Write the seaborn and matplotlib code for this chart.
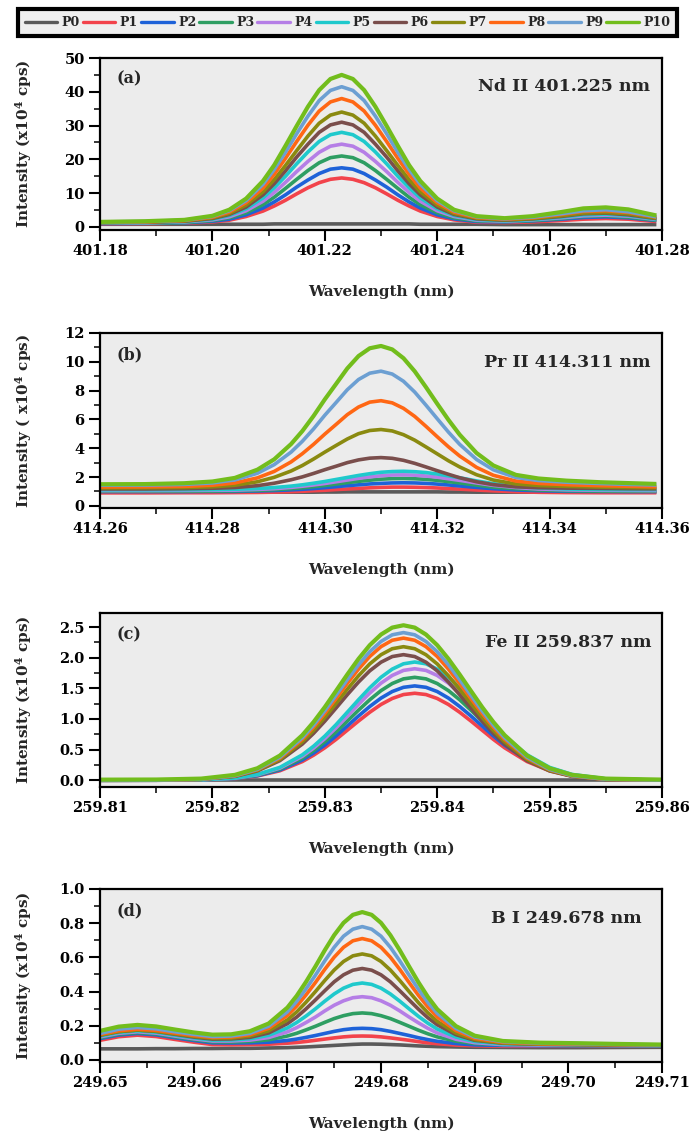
import matplotlib.pyplot as plt
import matplotlib.ticker as mticker
from matplotlib.lines import Line2D
import pandas as pd
import seaborn as sns

samples = ['P0', 'P1', 'P2', 'P3', 'P4', 'P5', 'P6', 'P7', 'P8', 'P9', 'P10']
colors = ['#5a5a5a', '#f2434b', '#1e62d8', '#2e9e62', '#b57ee6', '#1fc9cc',
          '#7a4e4c', '#8a8a10', '#ff6714', '#6c9fd2', '#72bd1c']

# (a) Nd II 401.225 nm, intensity in x10^4 cps
nd_wl = [401.180, 401.188, 401.195, 401.200, 401.203, 401.206, 401.209, 401.211, 401.213, 401.215,
         401.217, 401.219, 401.221, 401.223, 401.225, 401.227, 401.229, 401.231, 401.233, 401.235,
         401.237, 401.240, 401.243, 401.247, 401.252, 401.257, 401.262, 401.266, 401.270, 401.274, 401.279]
nd_p0 = [0.8, 0.8, 0.8, 0.8, 0.8, 0.8, 0.8, 0.9, 0.9, 0.9, 0.9, 0.9, 0.9, 0.9, 0.9, 0.9,
         0.9, 0.9, 0.9, 0.9, 0.8, 0.8, 0.8, 0.8, 0.7, 0.7, 0.7, 0.7, 0.7, 0.7, 0.7]
nd_p1 = [0.9, 1.0, 1.1, 1.5, 2.0, 3.1, 4.7, 6.2, 7.9, 9.8, 11.6, 13.1, 14.1, 14.5, 14.1, 13.1,
         11.6, 9.8, 7.9, 6.2, 4.7, 3.1, 2.1, 1.4, 1.3, 1.5, 1.9, 2.3, 2.5, 2.3, 1.6]
nd_p2 = [1.0, 1.1, 1.2, 1.7, 2.3, 3.6, 5.6, 7.4, 9.5, 11.8, 13.9, 15.8, 17.1, 17.5, 17.1, 15.8,
         13.9, 11.8, 9.5, 7.4, 5.6, 3.6, 2.4, 1.6, 1.5, 1.8, 2.3, 2.8, 3.0, 2.7, 1.9]
nd_p3 = [1.1, 1.1, 1.3, 1.9, 2.7, 4.2, 6.6, 8.8, 11.4, 14.1, 16.7, 19.0, 20.5, 21.0, 20.5, 19.0,
         16.7, 14.1, 11.4, 8.8, 6.6, 4.2, 2.7, 1.8, 1.6, 1.9, 2.5, 3.1, 3.3, 2.9, 2.0]
nd_p4 = [1.1, 1.2, 1.5, 2.1, 3.0, 4.8, 7.6, 10.2, 13.2, 16.4, 19.4, 22.1, 23.9, 24.5, 23.9, 22.1,
         19.4, 16.4, 13.2, 10.2, 7.6, 4.8, 3.1, 2.0, 1.7, 2.1, 2.7, 3.3, 3.5, 3.2, 2.2]
nd_p5 = [1.2, 1.3, 1.6, 2.3, 3.4, 5.4, 8.6, 11.6, 15.0, 18.7, 22.2, 25.3, 27.3, 28.0, 27.3, 25.3,
         22.2, 18.7, 15.0, 11.6, 8.6, 5.4, 3.4, 2.2, 1.8, 2.2, 2.9, 3.6, 3.8, 3.4, 2.3]
nd_p6 = [1.3, 1.4, 1.7, 2.5, 3.7, 5.9, 9.5, 12.8, 16.6, 20.7, 24.5, 28.0, 30.2, 31.0, 30.2, 28.0,
         24.5, 20.7, 16.6, 12.8, 9.5, 5.9, 3.7, 2.4, 2.0, 2.4, 3.1, 3.9, 4.1, 3.6, 2.5]
nd_p7 = [1.3, 1.5, 1.8, 2.7, 4.0, 6.5, 10.4, 14.0, 18.2, 22.6, 26.9, 30.7, 33.1, 34.0, 33.1, 30.7,
         26.9, 22.6, 18.2, 14.0, 10.4, 6.5, 4.0, 2.6, 2.1, 2.5, 3.3, 4.1, 4.3, 3.9, 2.6]
nd_p8 = [1.4, 1.5, 1.9, 2.9, 4.4, 7.2, 11.5, 15.6, 20.3, 25.3, 30.1, 34.3, 37.0, 38.0, 37.0, 34.3,
         30.1, 25.3, 20.3, 15.6, 11.5, 7.2, 4.4, 2.8, 2.3, 2.7, 3.7, 4.6, 4.8, 4.3, 2.9]
nd_p9 = [1.5, 1.6, 2.0, 3.1, 4.8, 7.8, 12.6, 17.0, 22.1, 27.6, 32.8, 37.4, 40.4, 41.5, 40.4, 37.4,
         32.8, 27.6, 22.1, 17.0, 12.6, 7.8, 4.8, 3.0, 2.4, 2.9, 3.9, 4.8, 5.1, 4.5, 3.0]
nd_p10 = [1.5, 1.7, 2.1, 3.3, 5.1, 8.4, 13.6, 18.3, 24.0, 29.9, 35.6, 40.5, 43.8, 45.0, 43.8, 40.5,
          35.6, 29.9, 24.0, 18.3, 13.6, 8.4, 5.1, 3.2, 2.6, 3.2, 4.4, 5.5, 5.8, 5.2, 3.4]

# (b) Pr II 414.311 nm
pr_wl = [414.260, 414.268, 414.275, 414.280, 414.284, 414.288, 414.291, 414.294, 414.296, 414.298,
         414.300, 414.302, 414.304, 414.306, 414.308, 414.310, 414.312, 414.314, 414.316, 414.318,
         414.320, 414.322, 414.324, 414.327, 414.330, 414.334, 414.338, 414.343, 414.349, 414.354, 414.359]
pr_p0 = [0.95, 0.95, 0.95, 0.95, 0.95, 0.95, 0.95, 0.95, 0.95, 0.95, 0.96, 0.96, 0.97, 0.97, 0.97, 0.97,
         0.97, 0.97, 0.97, 0.97, 0.97, 0.96, 0.96, 0.95, 0.95, 0.95, 0.95, 0.95, 0.95, 0.95, 0.95]
pr_p1 = [0.90, 0.90, 0.91, 0.91, 0.92, 0.93, 0.95, 0.98, 1.01, 1.05, 1.08, 1.13, 1.17, 1.21, 1.25, 1.28,
         1.30, 1.30, 1.29, 1.27, 1.24, 1.20, 1.16, 1.10, 1.04, 0.98, 0.94, 0.92, 0.91, 0.91, 0.91]
pr_p2 = [0.99, 0.99, 0.99, 1.00, 1.00, 1.03, 1.06, 1.11, 1.15, 1.20, 1.26, 1.33, 1.40, 1.46, 1.52, 1.56,
         1.59, 1.60, 1.59, 1.56, 1.51, 1.45, 1.38, 1.28, 1.19, 1.10, 1.05, 1.01, 1.00, 0.99, 0.99]
pr_p3 = [1.01, 1.01, 1.01, 1.02, 1.04, 1.07, 1.12, 1.19, 1.25, 1.33, 1.41, 1.51, 1.61, 1.70, 1.78, 1.85,
         1.89, 1.90, 1.88, 1.84, 1.77, 1.68, 1.59, 1.44, 1.30, 1.18, 1.10, 1.05, 1.02, 1.01, 1.01]
pr_p4 = [1.06, 1.06, 1.07, 1.08, 1.09, 1.14, 1.19, 1.28, 1.36, 1.45, 1.55, 1.67, 1.79, 1.91, 2.01, 2.09,
         2.14, 2.15, 2.13, 2.07, 1.99, 1.88, 1.77, 1.59, 1.42, 1.27, 1.17, 1.11, 1.08, 1.07, 1.06]
pr_p5 = [1.11, 1.11, 1.12, 1.13, 1.15, 1.20, 1.27, 1.37, 1.46, 1.57, 1.69, 1.83, 1.97, 2.11, 2.23, 2.33,
         2.38, 2.40, 2.37, 2.31, 2.21, 2.08, 1.95, 1.73, 1.54, 1.35, 1.24, 1.17, 1.13, 1.12, 1.12]
pr_p6 = [1.17, 1.17, 1.19, 1.22, 1.27, 1.40, 1.57, 1.81, 2.01, 2.25, 2.51, 2.75, 3.00, 3.19, 3.31, 3.35,
         3.30, 3.16, 2.95, 2.70, 2.44, 2.19, 1.95, 1.67, 1.47, 1.32, 1.26, 1.23, 1.21, 1.19, 1.18]
pr_p7 = [1.24, 1.25, 1.27, 1.32, 1.43, 1.67, 1.98, 2.42, 2.80, 3.25, 3.73, 4.19, 4.64, 5.01, 5.23, 5.30,
         5.20, 4.94, 4.56, 4.09, 3.61, 3.13, 2.70, 2.16, 1.79, 1.52, 1.41, 1.35, 1.30, 1.27, 1.25]
pr_p8 = [1.31, 1.32, 1.35, 1.43, 1.59, 1.94, 2.39, 3.05, 3.62, 4.27, 4.98, 5.65, 6.33, 6.86, 7.20, 7.30,
         7.15, 6.77, 6.21, 5.52, 4.80, 4.10, 3.46, 2.67, 2.12, 1.72, 1.56, 1.47, 1.40, 1.36, 1.32]
pr_p9 = [1.43, 1.44, 1.49, 1.59, 1.80, 2.26, 2.86, 3.73, 4.48, 5.34, 6.29, 7.17, 8.06, 8.77, 9.21, 9.35,
         9.15, 8.65, 7.90, 6.99, 6.05, 5.12, 4.27, 3.22, 2.50, 1.97, 1.76, 1.64, 1.55, 1.49, 1.45]
pr_p10 = [1.50, 1.51, 1.57, 1.69, 1.94, 2.51, 3.23, 4.29, 5.19, 6.24, 7.39, 8.46, 9.54, 10.40, 10.94, 11.10,
          10.86, 10.25, 9.34, 8.24, 7.09, 5.97, 4.94, 3.67, 2.80, 2.15, 1.90, 1.75, 1.64, 1.58, 1.52]

# (c) Fe II 259.837 nm
fe_wl = [259.810, 259.815, 259.819, 259.822, 259.824, 259.826, 259.828, 259.829, 259.830, 259.831,
         259.832, 259.833, 259.834, 259.835, 259.836, 259.837, 259.838, 259.839, 259.840, 259.841,
         259.842, 259.843, 259.844, 259.845, 259.846, 259.848, 259.850, 259.852, 259.855, 259.860]
fe_p0 = [0.0, 0.0, 0.0, 0.0, 0.0, 0.0, 0.0, 0.0, 0.0, 0.0, 0.0, 0.0, 0.0, 0.0, 0.0,
         0.0, 0.0, 0.0, 0.0, 0.0, 0.0, 0.0, 0.0, 0.0, 0.0, 0.0, 0.0, 0.0, 0.0, 0.0]
fe_p1 = [0.0, 0.0, 0.006, 0.027, 0.070, 0.155, 0.305, 0.409, 0.530, 0.667, 0.817, 0.967, 1.110, 1.237, 1.335,
         1.399, 1.420, 1.399, 1.335, 1.237, 1.110, 0.967, 0.817, 0.667, 0.530, 0.305, 0.155, 0.070, 0.017, 0.001]
fe_p2 = [0.0, 0.0, 0.006, 0.029, 0.075, 0.168, 0.331, 0.444, 0.574, 0.724, 0.886, 1.049, 1.204, 1.341, 1.448,
         1.517, 1.540, 1.517, 1.448, 1.341, 1.204, 1.049, 0.886, 0.724, 0.574, 0.331, 0.168, 0.075, 0.018, 0.001]
fe_p3 = [0.0, 0.001, 0.007, 0.032, 0.082, 0.183, 0.361, 0.484, 0.627, 0.790, 0.966, 1.144, 1.314, 1.463, 1.579,
         1.655, 1.680, 1.655, 1.579, 1.463, 1.314, 1.144, 0.966, 0.790, 0.627, 0.361, 0.183, 0.082, 0.020, 0.001]
fe_p4 = [0.0, 0.001, 0.007, 0.035, 0.089, 0.198, 0.391, 0.524, 0.679, 0.855, 1.047, 1.239, 1.423, 1.585, 1.711,
         1.793, 1.820, 1.793, 1.711, 1.585, 1.423, 1.239, 1.047, 0.855, 0.679, 0.391, 0.198, 0.089, 0.021, 0.001]
fe_p5 = [0.0, 0.001, 0.008, 0.037, 0.095, 0.210, 0.415, 0.556, 0.720, 0.907, 1.110, 1.314, 1.509, 1.681, 1.814,
         1.901, 1.930, 1.901, 1.814, 1.681, 1.509, 1.314, 1.110, 0.907, 0.720, 0.415, 0.210, 0.095, 0.023, 0.001]
fe_p6 = [0.0, 0.001, 0.014, 0.064, 0.152, 0.320, 0.590, 0.765, 0.964, 1.179, 1.396, 1.603, 1.786, 1.927, 2.019,
         2.050, 2.019, 1.927, 1.786, 1.603, 1.396, 1.179, 0.964, 0.765, 0.590, 0.320, 0.152, 0.064, 0.014, 0.001]
fe_p7 = [0.0, 0.001, 0.015, 0.068, 0.161, 0.340, 0.628, 0.813, 1.025, 1.254, 1.485, 1.705, 1.899, 2.049, 2.147,
         2.180, 2.147, 2.049, 1.899, 1.705, 1.485, 1.254, 1.025, 0.813, 0.628, 0.340, 0.161, 0.068, 0.015, 0.001]
fe_p8 = [0.0, 0.001, 0.016, 0.072, 0.172, 0.362, 0.668, 0.865, 1.090, 1.334, 1.580, 1.814, 2.021, 2.181, 2.285,
         2.320, 2.285, 2.181, 2.021, 1.814, 1.580, 1.334, 1.090, 0.865, 0.668, 0.362, 0.172, 0.072, 0.016, 0.001]
fe_p9 = [0.0, 0.001, 0.017, 0.075, 0.178, 0.376, 0.694, 0.899, 1.133, 1.386, 1.641, 1.885, 2.099, 2.265, 2.374,
         2.410, 2.374, 2.265, 2.099, 1.885, 1.641, 1.386, 1.133, 0.899, 0.694, 0.376, 0.178, 0.075, 0.017, 0.001]
fe_p10 = [0.010, 0.012, 0.027, 0.088, 0.196, 0.403, 0.736, 0.950, 1.194, 1.459, 1.726, 1.981, 2.205, 2.379, 2.492,
          2.530, 2.492, 2.379, 2.205, 1.981, 1.726, 1.459, 1.194, 0.950, 0.736, 0.403, 0.196, 0.088, 0.027, 0.011]

# (d) B I 249.678 nm
b_wl = [249.650, 249.652, 249.654, 249.656, 249.658, 249.660, 249.662, 249.664, 249.666, 249.668,
        249.670, 249.671, 249.672, 249.673, 249.674, 249.675, 249.676, 249.677, 249.678, 249.679,
        249.680, 249.681, 249.682, 249.683, 249.684, 249.685, 249.686, 249.688, 249.690, 249.693,
        249.697, 249.701, 249.705, 249.710]
b_p0 = [.065, .065, .065, .066, .066, .067, .067, .068, .068, .070, .072, .074, .076, .079, .082, .085, .088,
        .091, .093, .093, .092, .090, .088, .085, .082, .080, .078, .076, .074, .073, .072, .072, .073, .074]
b_p1 = [.115, .136, .145, .137, .120, .104, .090, .089, .090, .092, .098, .102, .108, .115, .122, .129, .135,
        .139, .140, .139, .135, .129, .122, .115, .107, .100, .095, .087, .083, .080, .080, .080, .080, .080]
b_p2 = [.125, .146, .155, .147, .130, .114, .100, .099, .100, .104, .114, .122, .132, .143, .155, .167, .177,
        .183, .185, .183, .177, .167, .155, .143, .130, .119, .109, .096, .088, .085, .083, .083, .083, .082]
b_p3 = [.130, .151, .160, .152, .135, .119, .106, .105, .108, .118, .140, .156, .176, .197, .220, .242, .259,
        .271, .275, .271, .259, .242, .220, .197, .174, .153, .135, .110, .096, .089, .086, .085, .084, .083]
b_p4 = [.135, .156, .165, .157, .140, .124, .111, .111, .116, .131, .164, .189, .219, .251, .287, .320, .346,
        .364, .370, .364, .346, .320, .287, .251, .217, .185, .158, .121, .101, .090, .087, .086, .085, .084]
b_p5 = [.140, .161, .170, .162, .145, .129, .116, .117, .124, .144, .187, .219, .257, .299, .344, .386, .420,
        .442, .450, .442, .420, .386, .344, .299, .255, .215, .181, .134, .108, .094, .090, .088, .087, .085]
b_p6 = [.145, .166, .175, .167, .150, .134, .122, .123, .132, .158, .212, .251, .299, .351, .405, .457, .498,
        .525, .535, .525, .498, .457, .405, .351, .297, .247, .206, .148, .115, .098, .092, .090, .087, .085]
b_p7 = [.145, .166, .175, .168, .153, .138, .127, .128, .140, .170, .234, .281, .338, .400, .465, .526, .576,
        .609, .620, .609, .576, .526, .465, .400, .335, .276, .226, .157, .119, .099, .092, .090, .088, .086]
b_p8 = [.150, .171, .180, .173, .158, .143, .132, .134, .148, .185, .260, .315, .381, .453, .530, .601, .659,
        .697, .710, .697, .659, .601, .530, .453, .378, .310, .252, .172, .126, .103, .095, .092, .090, .087]
b_p9 = [.155, .180, .190, .182, .165, .150, .137, .140, .156, .197, .281, .342, .416, .496, .580, .659, .724,
        .765, .780, .765, .724, .659, .580, .496, .413, .337, .273, .184, .134, .107, .098, .095, .091, .088]
b_p10 = [.170, .195, .205, .196, .178, .161, .148, .150, .168, .213, .306, .375, .457, .547, .642, .730, .802,
         .849, .865, .849, .802, .730, .642, .547, .454, .369, .297, .198, .142, .111, .101, .098, .094, .090]


def long_df(wl, series):
    frames = []
    for name, vals in zip(samples, series):
        frames.append(pd.DataFrame({'wl': wl, 'intensity': vals, 'sample': name}))
    return pd.concat(frames, ignore_index=True)


sns.set_style('ticks')
plt.rcParams['font.family'] = ['DejaVu Serif']
plt.rcParams['font.weight'] = 'bold'
plt.rcParams['axes.labelweight'] = 'bold'
plt.rcParams['mathtext.fontset'] = 'dejavuserif'
plt.rcParams['mathtext.default'] = 'bf'

W, H = 694, 1132
fig = plt.figure(figsize=(W / 100, H / 100), dpi=100)
fig.patch.set_facecolor('white')

ylab = r'Intensity (x10$^4$ cps)'
panels = [
    dict(wl=nd_wl, series=[nd_p0, nd_p1, nd_p2, nd_p3, nd_p4, nd_p5, nd_p6, nd_p7, nd_p8, nd_p9, nd_p10],
         top=58, bottom=230, xlim=(401.18, 401.28), ylim=(-0.9, 50), xmaj=0.02, ymaj=10,
         yfmt='%d', tag='(a)', note='Nd II 401.225 nm', ylabel=ylab, note_x=0.979),
    dict(wl=pr_wl, series=[pr_p0, pr_p1, pr_p2, pr_p3, pr_p4, pr_p5, pr_p6, pr_p7, pr_p8, pr_p9, pr_p10],
         top=333, bottom=508, xlim=(414.26, 414.36), ylim=(-0.15, 12), xmaj=0.02, ymaj=2,
         yfmt='%d', tag='(b)', note='Pr II 414.311 nm', ylabel=r'Intensity ( x10$^4$ cps)', note_x=0.979),
    dict(wl=fe_wl, series=[fe_p0, fe_p1, fe_p2, fe_p3, fe_p4, fe_p5, fe_p6, fe_p7, fe_p8, fe_p9, fe_p10],
         top=613, bottom=787, xlim=(259.81, 259.86), ylim=(-0.11, 2.73), xmaj=0.01, ymaj=0.5,
         yfmt='%.1f', tag='(c)', note='Fe II 259.837 nm', ylabel=ylab, note_x=0.982),
    dict(wl=b_wl, series=[b_p0, b_p1, b_p2, b_p3, b_p4, b_p5, b_p6, b_p7, b_p8, b_p9, b_p10],
         top=889, bottom=1062, xlim=(249.65, 249.71), ylim=(-0.012, 1.0), xmaj=0.01, ymaj=0.2,
         yfmt='%.1f', tag='(d)', note='B I 249.678 nm', ylabel=ylab, note_x=0.964),
]

left, right = 100, 662
for p in panels:
    ax = fig.add_axes([left / W, (H - p['bottom']) / H, (right - left) / W, (p['bottom'] - p['top']) / H])
    ax.set_facecolor('#ececec')
    df = long_df(p['wl'], p['series'])
    sns.lineplot(data=df, x='wl', y='intensity', hue='sample', hue_order=samples,
                 palette=colors, estimator=None, sort=False, linewidth=2.6, legend=False,
                 solid_joinstyle='round', solid_capstyle='butt', ax=ax)
    ax.lines[-1].set_linewidth(3.0)
    ax.set_xlim(p['xlim'])
    ax.set_ylim(p['ylim'])
    ax.xaxis.set_major_locator(mticker.MultipleLocator(p['xmaj']))
    ax.xaxis.set_minor_locator(mticker.MultipleLocator(p['xmaj'] / 2))
    ax.yaxis.set_major_locator(mticker.MultipleLocator(p['ymaj']))
    ax.yaxis.set_minor_locator(mticker.MultipleLocator(p['ymaj'] / 2))
    ax.xaxis.set_major_formatter(mticker.FormatStrFormatter('%.2f'))
    ax.yaxis.set_major_formatter(mticker.FormatStrFormatter(p['yfmt']))
    ax.tick_params(which='major', direction='out', length=8, width=1.5, labelsize=10.5, colors='black')
    ax.tick_params(which='minor', direction='out', length=4, width=1.3)
    ax.tick_params(axis='x', which='major', pad=2)
    ax.tick_params(axis='y', which='major', pad=3)
    for s in ax.spines.values():
        s.set_linewidth(1.6)
        s.set_color('black')
    ax.set_xlabel('Wavelength (nm)', fontsize=11, labelpad=19)
    ax.set_ylabel(p['ylabel'], fontsize=11)
    ax.yaxis.set_label_coords(-0.118, 0.5)
    ax.text(0.03, 0.876, p['tag'], transform=ax.transAxes, fontsize=11.5,
            fontweight='bold', ha='left', va='center')
    ax.text(p['note_x'], 0.832, p['note'], transform=ax.transAxes, fontsize=12.5,
            fontweight='bold', ha='right', va='center')

handles = [Line2D([], [], color=c, linewidth=2.4) for c in colors]
leg = fig.legend(handles, samples, loc='upper center', bbox_to_anchor=(0.5007, 1 - 9 / H), ncol=11,
                 frameon=True, fancybox=False, edgecolor='black', facecolor='#efefef', framealpha=1,
                 fontsize=9, handlelength=2.6, handletextpad=0.35, columnspacing=0.25,
                 borderpad=0.55, borderaxespad=0)
leg.get_frame().set_linewidth(3)

fig.savefig('out.png', dpi=100)
